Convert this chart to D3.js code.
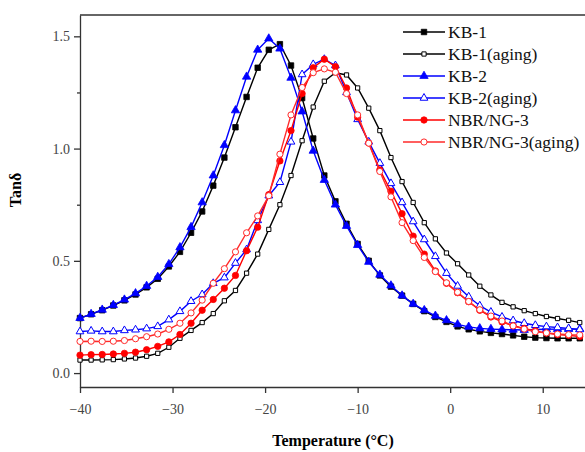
<!DOCTYPE html>
<html>
<head>
<meta charset="utf-8">
<script src="https://cdn.jsdelivr.net/npm/d3@7"></script>
<style>
  body { margin: 0; background: #fff; }
  text { font-family: "Liberation Serif", "Times New Roman", serif; }
</style>
</head>
<body>
<div id="chart"></div>
<script>
// Temperatures (°C) shared by every series
var temps = [-40, -38.8, -37.6, -36.4, -35.2, -34.0, -32.8, -31.6, -30.4, -29.2,
  -28.0, -26.8, -25.6, -24.4, -23.2, -22.0, -20.8, -19.6, -18.4, -17.2,
  -16.0, -14.8, -13.6, -12.4, -11.2, -10.0, -8.8, -7.6, -6.4, -5.2,
  -4.0, -2.8, -1.6, -0.4, 0.8, 2.0, 3.2, 4.4, 5.6, 6.8,
  8.0, 9.2, 10.4, 11.6, 12.8, 14.0]

// Tan delta values
var kb1 = [0.245, 0.262, 0.280, 0.301, 0.324, 0.350, 0.382, 0.420, 0.475, 0.540,
  0.625, 0.720, 0.835, 0.960, 1.095, 1.230, 1.360, 1.440, 1.465, 1.370,
  1.225, 1.045, 0.880, 0.765, 0.665, 0.575, 0.500, 0.435, 0.385, 0.345,
  0.308, 0.276, 0.250, 0.228, 0.208, 0.195, 0.186, 0.179, 0.174, 0.168,
  0.162, 0.158, 0.156, 0.155, 0.155, 0.155]
var kb1Aging = [0.058, 0.058, 0.059, 0.060, 0.063, 0.067, 0.075, 0.088, 0.115, 0.155,
  0.190, 0.225, 0.265, 0.322, 0.368, 0.445, 0.530, 0.640, 0.750, 0.880,
  1.035, 1.185, 1.300, 1.338, 1.328, 1.270, 1.180, 1.080, 0.960, 0.853,
  0.760, 0.670, 0.598, 0.535, 0.487, 0.437, 0.387, 0.348, 0.315, 0.295,
  0.278, 0.265, 0.252, 0.243, 0.235, 0.225]
var kb2 = [0.245, 0.263, 0.282, 0.303, 0.327, 0.355, 0.388, 0.428, 0.485, 0.560,
  0.650, 0.760, 0.880, 1.015, 1.170, 1.320, 1.440, 1.490, 1.445, 1.315,
  1.165, 0.990, 0.860, 0.750, 0.655, 0.570, 0.495, 0.438, 0.390, 0.345,
  0.308, 0.280, 0.255, 0.235, 0.217, 0.206, 0.199, 0.196, 0.194, 0.193,
  0.192, 0.194, 0.195, 0.196, 0.196, 0.196]
var kb2Aging = [0.185, 0.188, 0.185, 0.185, 0.190, 0.193, 0.198, 0.208, 0.238, 0.275,
  0.320, 0.350, 0.400, 0.425, 0.490, 0.550, 0.680, 0.790, 0.850, 1.030,
  1.330, 1.375, 1.398, 1.370, 1.250, 1.130, 1.030, 0.935, 0.845, 0.760,
  0.675, 0.595, 0.520, 0.445, 0.388, 0.340, 0.300, 0.272, 0.250, 0.234,
  0.222, 0.213, 0.207, 0.203, 0.199, 0.194]
var nbr3 = [0.080, 0.082, 0.083, 0.085, 0.088, 0.093, 0.104, 0.119, 0.139, 0.172,
  0.222, 0.280, 0.328, 0.378, 0.435, 0.545, 0.650, 0.795, 0.945, 1.080,
  1.245, 1.360, 1.398, 1.365, 1.270, 1.140, 1.025, 0.905, 0.810, 0.710,
  0.610, 0.530, 0.455, 0.400, 0.358, 0.318, 0.280, 0.250, 0.228, 0.211,
  0.199, 0.188, 0.178, 0.172, 0.168, 0.163]
var nbr3Aging = [0.141, 0.142, 0.141, 0.142, 0.145, 0.153, 0.162, 0.174, 0.195, 0.222,
  0.268, 0.325, 0.400, 0.465, 0.540, 0.625, 0.700, 0.790, 0.975, 1.150,
  1.272, 1.338, 1.355, 1.340, 1.245, 1.150, 1.024, 0.898, 0.785, 0.670,
  0.590, 0.515, 0.452, 0.402, 0.360, 0.319, 0.282, 0.254, 0.232, 0.210,
  0.196, 0.184, 0.179, 0.174, 0.171, 0.170]

var seriesNames = ['KB-1', 'KB-1(aging)', 'KB-2', 'KB-2(aging)', 'NBR/NG-3', 'NBR/NG-3(aging)']
var xTicks = [-40, -30, -20, -10, 0, 10]
var yTicks = [0.0, 0.5, 1.0, 1.5]
var yMinorTicks = [0.25, 0.75, 1.25]

// Series styling
var series = [
  { name: seriesNames[0], values: kb1, color: '#000000', shape: 'square', open: false, size: 30 },
  { name: seriesNames[1], values: kb1Aging, color: '#000000', shape: 'square', open: true, size: 18 },
  { name: seriesNames[2], values: kb2, color: '#0000ff', shape: 'triangle', open: false, size: 30 },
  { name: seriesNames[3], values: kb2Aging, color: '#0000ff', shape: 'triangle', open: true, size: 26 },
  { name: seriesNames[4], values: nbr3, color: '#ff0000', shape: 'circle', open: false, size: 32 },
  { name: seriesNames[5], values: nbr3Aging, color: '#ff2a2a', shape: 'circle', open: true, size: 30 }
]

// Dimensions
var width = 585
var height = 452
var margin = { top: 15, right: -4, bottom: 65, left: 80 }
var chartWidth = width - margin.left - margin.right
var chartHeight = height - margin.top - margin.bottom

var svg = d3.select('#chart').append('svg')
  .attr('width', width)
  .attr('height', height)

var g = svg.append('g')
  .attr('transform', 'translate(' + margin.left + ',' + margin.top + ')')

// Scales
var xScale = d3.scaleLinear().domain([-40, 15]).range([0, chartWidth])
var yScale = d3.scaleLinear().domain([-0.062, 1.595]).range([chartHeight, 0])

var symbolType = {
  square: d3.symbolSquare,
  triangle: d3.symbolTriangle,
  circle: d3.symbolCircle
}

svg.append('defs').append('clipPath')
  .attr('id', 'clip')
  .append('rect')
  .attr('x', -6)
  .attr('y', -6)
  .attr('width', chartWidth + 12)
  .attr('height', chartHeight + 6)

// Axes
var axisColor = '#333'
var xAxis = g.append('g')
  .attr('transform', 'translate(0,' + chartHeight + ')')
  .call(d3.axisBottom(xScale).tickValues(xTicks).tickSize(6).tickSizeOuter(0)
    .tickFormat(function (d) { return d < 0 ? '\u2212' + Math.abs(d) : d }))
var yAxis = g.append('g')
  .call(d3.axisLeft(yScale).tickValues(yTicks).tickSize(6).tickSizeOuter(0)
    .tickFormat(d3.format('.1f')))
g.append('g')
  .call(d3.axisLeft(yScale).tickValues(yMinorTicks).tickSize(3).tickFormat(''))
  .select('.domain').remove()

g.selectAll('.domain, .tick line')
  .attr('stroke', axisColor)
  .attr('stroke-width', 1.3)
g.selectAll('.tick text')
  .attr('fill', '#444')
  .style('font-size', '14px')
  .style('font-family', '"Liberation Serif", serif')
xAxis.selectAll('.tick text').attr('dy', '1.25em')
yAxis.selectAll('.tick text').attr('x', -10)

// Top frame line
g.append('line')
  .attr('x1', 0)
  .attr('x2', chartWidth)
  .attr('y1', 0)
  .attr('y2', 0)
  .attr('stroke', axisColor)
  .attr('stroke-width', 1.3)

// Axis titles
svg.append('text')
  .attr('transform', 'translate(21,190) rotate(-90)')
  .attr('text-anchor', 'middle')
  .style('font-size', '16px')
  .style('font-weight', 'bold')
  .text('Tanδ')
svg.append('text')
  .attr('x', 333)
  .attr('y', 446)
  .attr('text-anchor', 'middle')
  .style('font-size', '16px')
  .style('font-weight', 'bold')
  .text('Temperature (°C)')

// Lines and markers
var line = d3.line()
  .x(function (d, i) { return xScale(temps[i]) })
  .y(function (d) { return yScale(d) })

var plot = g.append('g').attr('clip-path', 'url(#clip)')

series.forEach(function (s) {
  var sg = plot.append('g')
  sg.append('path')
    .datum(s.values)
    .attr('fill', 'none')
    .attr('stroke', s.color)
    .attr('stroke-width', 1.4)
    .attr('d', line)
  sg.selectAll('.marker')
    .data(s.values)
    .enter().append('path')
    .attr('class', 'marker')
    .attr('transform', function (d, i) {
      return 'translate(' + xScale(temps[i]) + ',' + yScale(d) + ')'
    })
    .attr('d', d3.symbol().type(symbolType[s.shape]).size(s.size))
    .attr('fill', s.open ? '#fff' : s.color)
    .attr('stroke', s.color)
    .attr('stroke-width', s.open ? 1 : 0.8)
})

// Legend
var legend = svg.append('g')
  .attr('transform', 'translate(403,32)')

series.forEach(function (s, i) {
  var row = legend.append('g').attr('transform', 'translate(0,' + i * 22 + ')')
  row.append('line')
    .attr('x1', 0)
    .attr('x2', 42)
    .attr('stroke', s.color)
    .attr('stroke-width', 1.4)
  row.append('path')
    .attr('transform', 'translate(21,0)')
    .attr('d', d3.symbol().type(symbolType[s.shape]).size(s.size))
    .attr('fill', s.open ? '#fff' : s.color)
    .attr('stroke', s.color)
    .attr('stroke-width', s.open ? 1 : 0.8)
  row.append('text')
    .attr('x', 45)
    .attr('y', 6)
    .style('font-size', '17.5px')
    .attr('fill', '#111')
    .text(s.name)
})
</script>
</body>
</html>
